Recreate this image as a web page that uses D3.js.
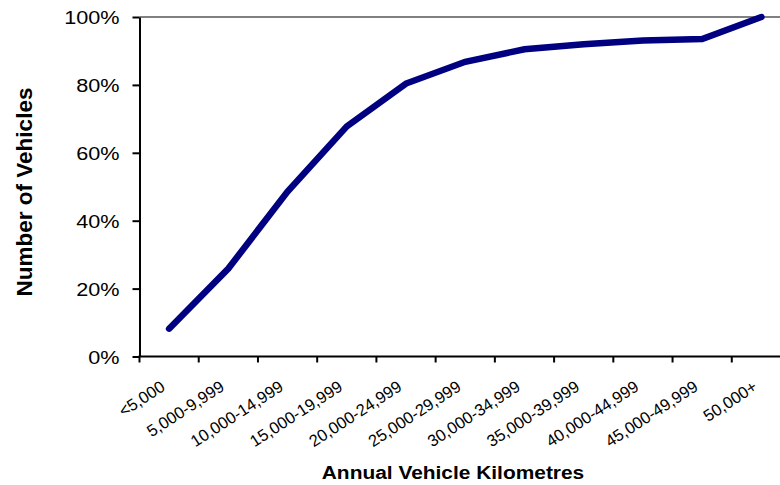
<!DOCTYPE html>
<html>
<head>
<meta charset="utf-8">
<script src="https://cdn.jsdelivr.net/npm/d3@7"></script>
<style>
  html, body { margin: 0; padding: 0; background: #fff; }
  svg { display: block; }
  text { font-family: "Liberation Sans", Arial, sans-serif; fill: #000; }
</style>
</head>
<body>
<svg id="chart" width="780" height="485"></svg>
<script>
// Distance bands driven per year
const categories = [
  "<5,000", "5,000-9,999", "10,000-14,999", "15,000-19,999", "20,000-24,999",
  "25,000-29,999", "30,000-34,999", "35,000-39,999", "40,000-44,999",
  "45,000-49,999", "50,000+"
];
// Cumulative share of vehicles (%)
const cumulativeShare = [8.2, 25.9, 48.6, 67.8, 80.4, 86.8, 90.5, 92.0, 93.1, 93.5, 100];
// Y axis tick values (%)
const yTicks = [0, 20, 40, 60, 80, 100];

const svg = d3.select("#chart");
const plotLeft = 139.5, plotRight = 791, plotTop = 17, plotBottom = 356.5;

const x = d3.scaleBand().domain(categories).range([plotLeft, plotRight]);
const y = d3.scaleLinear().domain([0, 100]).range([plotBottom, plotTop]);

// top border of the plot area
svg.append("line")
  .attr("x1", plotLeft).attr("x2", plotRight)
  .attr("y1", y(100)).attr("y2", y(100))
  .attr("stroke", "#808080").attr("stroke-width", 2);

// Y axis
const yAxis = svg.append("g")
  .attr("transform", `translate(${plotLeft},0)`)
  .call(d3.axisLeft(y).tickValues(yTicks).tickFormat(d => d + "%").tickSize(7).tickSizeOuter(0));
yAxis.select(".domain").attr("stroke", "#000").attr("stroke-width", 2);
yAxis.selectAll(".tick line").attr("stroke", "#000").attr("stroke-width", 2);
yAxis.selectAll(".tick text")
  .attr("x", -20 / 1.14)
  .attr("dy", "0.36em")
  .style("font-size", "19px")
  .attr("transform", "scale(1.14,1)")
  .attr("text-anchor", "end");

// X axis: ticks at band boundaries
const xAxisG = svg.append("g").attr("transform", `translate(0,${plotBottom})`);
xAxisG.append("line")
  .attr("x1", plotLeft - 1).attr("x2", plotRight)
  .attr("stroke", "#000").attr("stroke-width", 2);
const edges = categories.map(c => x(c)).concat([x(categories[categories.length - 1]) + x.bandwidth()]);
xAxisG.selectAll("line.tk").data(edges).join("line")
  .attr("class", "tk")
  .attr("x1", d => d).attr("x2", d => d)
  .attr("y1", 0).attr("y2", 6)
  .attr("stroke", "#000").attr("stroke-width", 2);

xAxisG.selectAll("text.lbl").data(categories).join("text")
  .attr("class", "lbl")
  .attr("text-anchor", "end")
  .style("font-size", "16.5px")
  .attr("transform", d => `translate(${x(d) + x.bandwidth() / 2 - 3},${33}) rotate(-33)`)
  .text(d => d);

// Cumulative line
const line = d3.line()
  .x((d, i) => x(categories[i]) + x.bandwidth() / 2)
  .y(d => y(d));
svg.append("path")
  .datum(cumulativeShare)
  .attr("d", line)
  .attr("fill", "none")
  .attr("stroke", "#000080")
  .attr("stroke-width", 6.5)
  .attr("stroke-linejoin", "miter")
  .attr("stroke-linecap", "round");

// Axis titles
svg.append("text")
  .attr("transform", "translate(453,479) scale(1.1,1)")
  .attr("text-anchor", "middle")
  .style("font-size", "19px")
  .style("font-weight", "bold")
  .text("Annual Vehicle Kilometres");

svg.append("text")
  .attr("transform", "translate(32,192) rotate(-90)")
  .attr("text-anchor", "middle")
  .style("font-size", "22.5px")
  .style("font-weight", "bold")
  .text("Number of Vehicles");
</script>
</body>
</html>
